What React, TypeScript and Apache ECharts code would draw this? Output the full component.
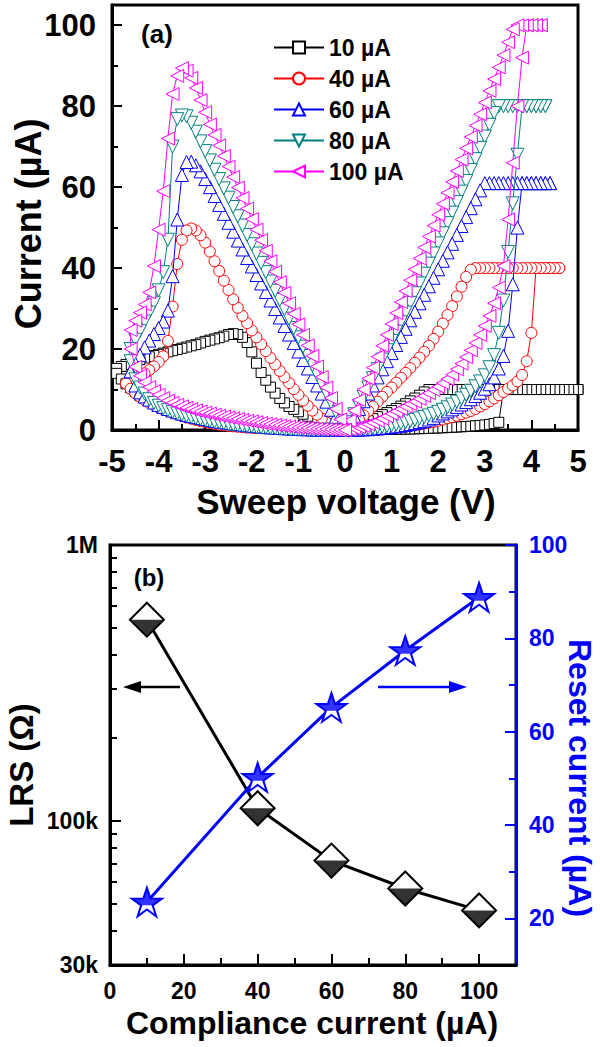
import React, { useEffect, useRef } from "react";
import * as echarts from "echarts";

const FONT = '"Liberation Sans", Arial, Helvetica, sans-serif';

// ---------- Panel (a): I–V sweeps ----------
const V_POS = [0,0.1,0.2,0.3,0.4,0.5,0.6,0.7,0.8,0.9,1,1.1,1.2,1.3,1.4,1.5,1.6,1.7,1.8,1.9,2,2.1,2.2,2.3,2.4,2.5,2.6,2.7,2.8,2.9,3,3.1,3.2,3.3,3.4,3.5,3.6,3.7,3.8,3.9,4,4.1,4.2,4.3,4.4,4.5,4.6,4.7,4.8,4.9,5];
const V_NEG = [0,-0.1,-0.2,-0.3,-0.4,-0.5,-0.6,-0.7,-0.8,-0.9,-1,-1.1,-1.2,-1.3,-1.4,-1.5,-1.6,-1.7,-1.8,-1.9,-2,-2.1,-2.2,-2.3,-2.4,-2.5,-2.6,-2.7,-2.8,-2.9,-3,-3.1,-3.2,-3.3,-3.4,-3.5,-3.6,-3.7,-3.8,-3.9,-4,-4.1,-4.2,-4.3,-4.4,-4.5,-4.6,-4.7,-4.8,-4.9,-5];

const SERIES_NAMES = ["10 \u00B5A", "40 \u00B5A", "60 \u00B5A", "80 \u00B5A", "100 \u00B5A"];
const SERIES_COLORS = ["#000000", "#ff0000", "#0000ff", "#008080", "#ff00ff"];

// 10 uA
const SET_10 = [0,0.01,0.02,0.03,0.04,0.05,0.06,0.08,0.1,0.12, 0.14,0.16,0.19,0.22,0.25,0.28,0.32,0.36,0.4,0.45, 0.5,0.55,0.6,0.66,0.72,0.79,0.86,0.94,1.03,1.13, 1.25,1.4,1.6,1.9,10,10,10,10,10,10, 10,10,10,10,10,10,10,10,10,10, 10];
const LRSP_10 = [0,0.5,0.9,1.4,1.8,2.3,2.8,3.3,3.8,4.3, 4.8,5.3,5.9,6.5,7.2,7.9,8.6,9.4,10,10, 10,10,10,10,10,10,10,10,10,10, 10,10,10,10,10,10,10,10,10,10, 10,10,10,10,10,10,10,10,10,10, 10];
const LRSN_10 = [0,0.3,0.7,1.1,1.6,2.1,2.6,3.0,3.4,3.9, 4.5,5.1,5.8,6.7,7.8,9.1,10.6,12.3,14.2,16.5, 19.3,21.6,22.9,23.6,23.8,23.6,23.2,22.8,22.5,22.2, 21.9,21.5,21.1,20.8,20.5,20.2,19.9,19.6,19.3,19.0, 18.7,18.4,18.1,17.8,17.4,17.0,16.6,16.2,15.7,15.2];
const HRSN_10 = [0,0.01,0.02,0.03,0.05,0.07,0.1,0.13,0.17,0.22, 0.28,0.35,0.43,0.52,0.62,0.73,0.9,1.05,1.2,1.4, 1.6,1.75,1.9,2.1,2.3,2.5,2.7,2.9,3.1,3.3, 3.55,3.8,4.05,4.3,4.55,4.8,5.0,5.3,5.6,5.95, 6.3,6.7,7.2,7.8,8.5,9.5,10.4,11.4,12.6,14.0];

// 40 uA
const SET_40 = [0,0.02,0.05,0.08,0.1,0.15,0.2,0.25,0.3,0.4, 0.5,0.6,0.75,0.9,1.05,1.2,1.4,1.6,1.8,2.0, 2.3,2.6,2.9,3.2,3.5,3.9,4.3,4.7,5.2,5.8, 6.4,7.1,7.8,8.6,9.4,10.2,11.0,12.0,13.6,17.0, 24,40,40,40,40,40,40];
const LRSP_40 = [0,0.8,1.7,2.6,3.6,4.7,5.8,7.0,8.2,9.4, 10.5,11.7,12.9,14.1,15.3,16.6,17.9,19.3,20.8,22.5, 24.3,26.3,28.4,30.6,33.0,35.4,37.8,39.6,40,40, 40,40,40,40,40,40,40,40,40,40, 40,40,40,40,40,40,40];
const LRSN_40 = [0,0.3,0.7,1.2,1.9,2.8,3.8,4.8,6.0,7.3, 8.7,10.1,11.6,13.1,14.6,16.2,17.8,19.5,21.2,22.9, 24.6,26.4,28.2,30.2,32.3,34.6,36.9,39.3,41.7,44.1, 46.3,48.1,49.3,49.8,49.3,47.0,41.0,30.5,22.0,18.2, 16.8,15.7,14.8,14.0,13.3,12.6,12.0,11.5];
const HRSN_40 = [0,0.01,0.02,0.03,0.04,0.05,0.07,0.09,0.11,0.13, 0.15,0.18,0.21,0.24,0.27,0.31,0.35,0.39,0.43,0.47, 0.52,0.6,0.7,0.8,0.9,1.02,1.15,1.3,1.5,1.7, 1.95,2.2,2.5,2.8,3.1,3.45,3.85,4.25,4.65,5.1, 5.6,6.1,6.7,7.4,8.2,9.1,10.2,11.5];

// 60 uA
const SET_60 = [0,0.02,0.05,0.1,0.15,0.2,0.3,0.4,0.5,0.6, 0.75,0.9,1.05,1.25,1.45,1.7,1.95,2.25,2.6,3.0, 3.6,4.1,4.6,5.1,5.7,6.3,6.9,7.6,8.4,9.2, 10.2,11.3,13.0,15.2,18.3,24.5,36,50,61,61, 61,61,61,61,61];
const LRSP_60 = [0,1.6,3.4,5.2,7.1,9.0,11.0,13.0,15.0,17.0, 19.0,21.0,23.0,25.0,27.1,29.2,31.3,33.4,35.5,37.6, 39.7,41.8,43.9,46.0,48.2,50.4,52.6,54.8,57.0,59.2, 61,61,61,61,61,61,61,61,61,61, 61,61,61,61,61];
const LRSN_60 = [0,1.5,3.2,5.0,7.0,9.0,11.0,13.1,15.2,17.3, 19.4,21.5,23.6,25.7,27.8,29.9,32.0,34.1,36.2,38.3, 40.4,42.5,44.6,46.8,49.0,51.2,53.4,55.6,57.8,60.0, 62.0,63.9,65.4,66.3,66.2,63.0,52.0,38.0,29.5,26.8, 25.2,23.7,22.1,20.4,18.5,16.5,14.5];
const HRSN_60 = [0,0.01,0.02,0.04,0.06,0.08,0.1,0.13,0.16,0.2, 0.25,0.3,0.36,0.43,0.5,0.58,0.66,0.75,0.85,0.95, 1.05,1.17,1.3,1.45,1.6,1.75,1.9,2.05,2.25,2.45, 2.7,2.95,3.2,3.45,3.75,4.05,4.4,4.8,5.2,5.7, 6.2,6.8,7.5,8.3,9.3,11.0,14.5];

// 80 uA
const SET_80 = [0,0.05,0.1,0.2,0.3,0.4,0.55,0.7,0.85,1.0, 1.2,1.4,1.65,1.9,2.2,2.5,2.85,3.2,3.6,4.0, 4.5,5.0,5.6,6.3,7.0,7.8,8.7,9.7,10.8,12.0, 13.5,15.5,18.5,24.0,32.0,44.0,56.0,68.0,80,80, 80,80,80,80];
const LRSP_80 = [0,1.9,3.9,6.0,8.2,10.5,12.8,15.1,17.4,19.7, 22.0,24.3,26.6,29.0,31.4,33.8,36.2,38.6,41.1,43.6, 46.1,48.6,51.1,53.7,56.3,58.9,61.5,64.2,66.9,69.7, 72.5,75.4,78.3,80,80,80,80,80,80,80, 80,80,80,80];
const LRSN_80 = [0,2.2,4.5,6.8,9.1,11.4,13.7,16.0,18.3,20.6, 22.9,25.2,27.5,29.8,32.1,34.4,36.7,39.0,41.3,43.6, 45.9,48.2,50.5,52.8,55.1,57.4,59.7,62.0,64.3,66.6, 68.9,71.3,73.7,75.9,77.5,77.7,76.8,70.0,47.0,39.0, 34.5,31.3,29.0,26.8,24.4,22.3,20.0];
const HRSN_80 = [0,0.005,0.01,0.02,0.03,0.04,0.06,0.08,0.1,0.13, 0.16,0.2,0.24,0.29,0.35,0.41,0.48,0.56,0.65,0.74, 0.84,0.95,1.07,1.2,1.35,1.5,1.67,1.85,2.05,2.25, 2.47,2.7,2.95,3.2,3.5,3.8,4.1,4.5,4.9,5.4, 6.0,6.7,7.6,9.0,10.5,12.5,17.0];

// 100 uA
const SET_100 = [0,0.2,0.4,0.7,1.0,1.4,1.8,2.3,2.8,3.4, 4.0,4.6,5.2,5.8,6.4,7.0,7.7,8.4,9.1,9.9, 10.7,11.6,12.6,13.7,15.0,16.4,18.0,19.7,21.5,23.5, 25.7,28.2,31.3,35.2,40.5,52.0,66.0,80.0,92.0,100, 100,100,100];
const LRSP_100 = [0,2.3,4.8,7.4,10.0,12.7,15.4,18.1,20.8,23.5, 26.2,28.9,31.6,34.3,37.0,39.7,42.4,45.1,47.8,50.5, 53.2,55.9,58.6,61.3,64.0,66.8,69.6,72.4,75.2,78.0, 80.9,83.8,86.7,89.6,92.6,95.8,99.0,100,100,100, 100,100,100];
const LRSN_100 = [0,2.6,5.2,7.9,10.5,13.1,15.7,18.3,20.9,23.5, 26.1,28.7,31.3,33.9,36.5,39.1,41.7,44.3,46.9,49.5, 52.1,54.7,57.3,59.9,62.5,65.1,67.7,70.3,72.9,75.5, 78.5,81.5,84.5,87.0,88.8,89.4,87.5,83.0,72.0,59.0, 49.5,40.5,34.0,31.0,29.0,27.0,24.7];
const HRSN_100 = [0,0.03,0.07,0.12,0.18,0.25,0.32,0.4,0.48,0.55, 0.62,0.73,0.85,0.98,1.12,1.27,1.42,1.58,1.75,1.93, 2.12,2.31,2.5,2.7,2.9,3.1,3.32,3.55,3.8,4.05, 4.3,4.57,4.85,5.15,5.5,5.85,6.25,6.7,7.25,7.9, 8.7,9.6,10.6,11.8,13.4,15.6,20.0];

const A_X_MIN = -5, A_X_MAX = 5;
const A_Y_MIN = 0, A_Y_MAX = 105;
const A_Y_TICKS = [0, 20, 40, 60, 80, 100];
const A_Y_MINOR = [10, 30, 50, 70, 90];

// ---------- Panel (b) ----------
const COMPLIANCE = [10, 40, 60, 80, 100];
const LRS = [536000, 111000, 71700, 56800, 47300];
const RESET_I = [23.5, 50.2, 65.2, 77.4, 88.8];
const B_X_TICKS = [0, 20, 40, 60, 80, 100];
const B_X_MINOR = [10, 30, 50, 70, 90];
const B_LRS_TICKS = [30000, 100000, 1000000];
const B_LRS_MINOR = [40000, 50000, 60000, 70000, 80000, 90000, 200000, 300000, 400000, 500000, 600000, 700000, 800000, 900000];
const B_R_TICKS = [20, 40, 60, 80, 100];
const B_R_MINOR = [30, 50, 70, 90];

const zip = (vs: number[], is: number[]) => is.map((v, k) => [vs[k], v]);
function sweep(setI: number[], lrsP: number[], lrsN: number[], hrsN: number[]) {
  return [
    ...zip(V_POS, setI),
    ...zip(V_POS, lrsP).reverse(),
    ...zip(V_NEG, lrsN),
    ...zip(V_NEG, hrsN).reverse(),
  ];
}

const SWEEPS = [
  sweep(SET_10, LRSP_10, LRSN_10, HRSN_10),
  sweep(SET_40, LRSP_40, LRSN_40, HRSN_40),
  sweep(SET_60, LRSP_60, LRSN_60, HRSN_60),
  sweep(SET_80, LRSP_80, LRSN_80, HRSN_80),
  sweep(SET_100, LRSP_100, LRSN_100, HRSN_100),
];
const SYMBOLS = ["rect", "circle", "triangle", "triangle", "triangle"];
const SYMBOL_ROT = [0, 0, 0, 180, 90];
const SYMBOL_SIZE = [10, 11, 13, 13, 13];

const STAR = "path://M100,0L122.45,69.1L195.1,69.1L136.33,111.8L158.8,180.9L100,138.2L41.2,180.9L63.67,111.8L4.9,69.1L77.55,69.1Z";
const STAR_TOP = "path://M100,0L122.45,69.1L195.1,69.1L136.33,111.8L63.67,111.8L4.9,69.1L77.55,69.1Z";
const TRI_DOWN = "path://M0,0L2,0L1,1Z";

function buildOption() {
  const bold = { fontFamily: FONT, fontWeight: "bold" as const, color: "#000" };
  const aSeries = SWEEPS.map((d, k) => ({
    type: "line",
    name: SERIES_NAMES[k],
    data: d,
    xAxisIndex: 0,
    yAxisIndex: 0,
    symbol: SYMBOLS[k],
    symbolRotate: SYMBOL_ROT[k],
    symbolSize: SYMBOL_SIZE[k],
    showSymbol: true,
    clip: false,
    silent: true,
    itemStyle: { color: "#ffffff", borderColor: SERIES_COLORS[k], borderWidth: 1 },
    lineStyle: { color: SERIES_COLORS[k], width: 1 },
    z: 2 + k,
  }));

  const lrsData = COMPLIANCE.map((c, k) => [c, LRS[k]]);
  const resetData = COMPLIANCE.map((c, k) => [c, RESET_I[k]]);

  const bSeries = [
    {
      type: "line", name: "LRS", data: lrsData, xAxisIndex: 2, yAxisIndex: 2,
      symbol: "diamond", symbolSize: 34, clip: false, silent: true,
      itemStyle: { color: "#ffffff", borderColor: "#000", borderWidth: 2 },
      lineStyle: { color: "#000", width: 3 }, z: 3,
    },
    {
      type: "scatter", name: "LRS-fill", data: lrsData, xAxisIndex: 2, yAxisIndex: 2,
      symbol: TRI_DOWN, symbolSize: [34, 17], symbolOffset: [0, 8.5], clip: false, silent: true,
      itemStyle: { color: "#000" }, z: 4,
    },
    {
      type: "line", name: "Reset", data: resetData, xAxisIndex: 2, yAxisIndex: 3,
      symbol: STAR, symbolSize: [30, 28.5], clip: false, silent: true,
      itemStyle: { color: "#ffffff", borderColor: "#0000ff", borderWidth: 2 },
      lineStyle: { color: "#0000ff", width: 3 }, z: 5,
    },
    {
      type: "scatter", name: "Reset-fill", data: resetData, xAxisIndex: 2, yAxisIndex: 3,
      symbol: STAR_TOP, symbolSize: [30, 17.6], symbolOffset: [0, -5.44], clip: false, silent: true,
      itemStyle: { color: "#0000ff" }, z: 6,
    },
  ];

  const hidden = { axisLine: { show: false, onZero: false }, axisTick: { show: false }, axisLabel: { show: false }, splitLine: { show: false } };

  return {
    animation: false,
    backgroundColor: "#ffffff",
    textStyle: { fontFamily: FONT },
    grid: [
      { left: 112, top: 5, width: 466, height: 425, show: true, borderColor: "#000", borderWidth: 3, backgroundColor: "transparent" },
      { left: 112, top: 5, width: 466, height: 425, show: false },
      { left: 110, top: 545, width: 406, height: 420, show: true, borderColor: "#000", borderWidth: 3, backgroundColor: "transparent" },
      { left: 110, top: 545, width: 406, height: 420, show: false },
    ],
    xAxis: [
      {
        gridIndex: 0, type: "value", min: A_X_MIN, max: A_X_MAX, interval: 1,
        axisLine: { onZero: false, lineStyle: { color: "#000", width: 3 } },
        axisTick: { inside: true, length: 10, lineStyle: { width: 2, color: "#000" } },
        minorTick: { show: true, splitNumber: 2, length: 6, lineStyle: { width: 2, color: "#000" } },
        axisLabel: { ...bold, fontSize: 31, margin: 16 },
        splitLine: { show: false },
      },
      { gridIndex: 1, type: "value", min: A_X_MIN, max: A_X_MAX, ...hidden },
      {
        gridIndex: 2, type: "value", min: 0, max: 110,
        axisLine: { onZero: false, lineStyle: { color: "#000", width: 3 } },
        axisTick: { inside: true, length: 11, customValues: B_X_TICKS, lineStyle: { width: 2, color: "#000" } },
        axisLabel: { ...bold, fontSize: 23, margin: 14, customValues: B_X_TICKS },
        splitLine: { show: false },
      },
      {
        gridIndex: 3, type: "value", min: 0, max: 110,
        axisLine: { show: false, onZero: false },
        axisTick: { inside: true, length: 7, customValues: B_X_MINOR, lineStyle: { width: 2, color: "#000" } },
        axisLabel: { show: false }, splitLine: { show: false },
      },
    ],
    yAxis: [
      {
        gridIndex: 0, type: "value", min: A_Y_MIN, max: A_Y_MAX, position: "left",
        axisLine: { show: true, onZero: false, lineStyle: { color: "#000", width: 3 } },
        axisTick: { show: true, inside: true, length: 10, customValues: A_Y_TICKS, lineStyle: { width: 2, color: "#000" } },
        axisLabel: { ...bold, fontSize: 31, margin: 16, customValues: A_Y_TICKS },
        splitLine: { show: false },
      },
      {
        gridIndex: 1, type: "value", min: A_Y_MIN, max: A_Y_MAX, position: "left",
        axisLine: { show: false, onZero: false },
        axisTick: { show: true, inside: true, length: 6, customValues: A_Y_MINOR, lineStyle: { width: 2, color: "#000" } },
        axisLabel: { show: false }, splitLine: { show: false },
      },
      {
        gridIndex: 2, type: "log", logBase: 10, min: 29990, max: 1000100, position: "left",
        axisLine: { show: true, onZero: false, lineStyle: { color: "#000", width: 3 } },
        axisTick: { show: true, inside: true, length: 11, customValues: B_LRS_TICKS, lineStyle: { width: 2, color: "#000" } },
        axisLabel: {
          ...bold, fontSize: 23, margin: 12, customValues: B_LRS_TICKS,
          formatter: (v: number) => (v >= 999000 ? Math.round(v / 1e6) + "M" : Math.round(v / 1e3) + "k"),
        },
        splitLine: { show: false },
      },
      {
        gridIndex: 2, type: "value", min: 10, max: 100, position: "right",
        axisLine: { show: true, onZero: false, lineStyle: { color: "#0000ff", width: 3 } },
        axisTick: { show: true, inside: true, length: 11, customValues: B_R_TICKS, lineStyle: { width: 2, color: "#0000ff" } },
        axisLabel: { ...bold, color: "#0000ff", fontSize: 23, margin: 13, customValues: B_R_TICKS },
        splitLine: { show: false },
      },
      {
        gridIndex: 3, type: "log", logBase: 10, min: 29990, max: 1000100, position: "left",
        axisLine: { show: false, onZero: false },
        axisTick: { show: true, inside: true, length: 7, customValues: B_LRS_MINOR, lineStyle: { width: 2, color: "#000" } },
        axisLabel: { show: false }, splitLine: { show: false },
      },
      {
        gridIndex: 3, type: "value", min: 10, max: 100, position: "right",
        axisLine: { show: false, onZero: false },
        axisTick: { show: true, inside: true, length: 7, customValues: B_R_MINOR, lineStyle: { width: 2, color: "#0000ff" } },
        axisLabel: { show: false }, splitLine: { show: false },
      },
    ],
    legend: {
      data: SERIES_NAMES, orient: "vertical", left: 268, top: 31,
      itemWidth: 50, itemHeight: 15, itemGap: 8, selectedMode: false,
      textStyle: { ...bold, fontSize: 23, lineHeight: 23 },
    },
    series: [...aSeries, ...bSeries],
    graphic: [
      { type: "text", x: 157, y: 34, z: 100, style: { text: "(a)", font: `bold 26px ${FONT}`, fill: "#000", align: "center", verticalAlign: "middle", textAlign: "center", textVerticalAlign: "middle" } },
      { type: "text", x: 149, y: 577, z: 100, style: { text: "(b)", font: `bold 24px ${FONT}`, fill: "#000", align: "center", verticalAlign: "middle", textAlign: "center", textVerticalAlign: "middle" } },
      { type: "text", x: 28, y: 224, rotation: Math.PI / 2, z: 100, style: { text: "Current (\u00B5A)", font: `bold 36px ${FONT}`, fill: "#000", align: "center", verticalAlign: "middle", textAlign: "center", textVerticalAlign: "middle" } },
      { type: "text", x: 346, y: 501, z: 100, style: { text: "Sweep voltage (V)", font: `bold 35px ${FONT}`, fill: "#000", align: "center", verticalAlign: "middle", textAlign: "center", textVerticalAlign: "middle" } },
      { type: "text", x: 21, y: 765, rotation: Math.PI / 2, z: 100, style: { text: "LRS (\u03A9)", font: `bold 33px ${FONT}`, fill: "#000", align: "center", verticalAlign: "middle", textAlign: "center", textVerticalAlign: "middle" } },
      { type: "text", x: 580, y: 778, rotation: -Math.PI / 2, z: 100, style: { text: "Reset current (\u00B5A)", font: `bold 32px ${FONT}`, fill: "#0000ff", align: "center", verticalAlign: "middle", textAlign: "center", textVerticalAlign: "middle" } },
      { type: "text", x: 312, y: 1023, z: 100, style: { text: "Compliance current (\u00B5A)", font: `bold 32px ${FONT}`, fill: "#000", align: "center", verticalAlign: "middle", textAlign: "center", textVerticalAlign: "middle" } },
      { type: "line", z: 100, shape: { x1: 180, y1: 687, x2: 138, y2: 687 }, style: { stroke: "#000", lineWidth: 2.5 } },
      { type: "polygon", z: 100, shape: { points: [[123, 687], [141, 681], [141, 693]] }, style: { fill: "#000" } },
      { type: "line", z: 100, shape: { x1: 378, y1: 687, x2: 452, y2: 687 }, style: { stroke: "#0000ff", lineWidth: 2.5 } },
      { type: "polygon", z: 100, shape: { points: [[467, 687], [449, 681], [449, 693]] }, style: { fill: "#0000ff" } },
    ],
  };
}

export default function App() {
  const ref = useRef<HTMLDivElement>(null);
  useEffect(() => {
    if (!ref.current) return;
    const chart = echarts.init(ref.current, undefined, { renderer: "svg" });
    chart.setOption(buildOption() as any);
    return () => chart.dispose();
  }, []);
  return (
    <div
      ref={ref}
      style={{ position: "absolute", left: 0, top: 0, width: 600, height: 1047, background: "#fff" }}
    />
  );
}
